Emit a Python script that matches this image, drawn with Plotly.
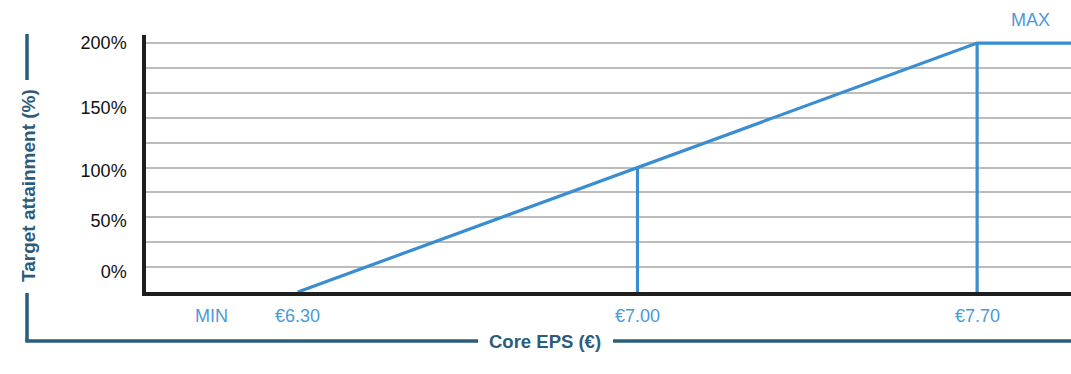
import plotly.graph_objects as go

# ---- data ----
eps_points = [6.30, 7.00, 7.70, 7.90]          # Core EPS (€) along the payout curve
attainment = [0, 100, 200, 200]                  # target attainment (%)
marker_eps = [7.00, 7.70]                        # vertical reference lines
marker_att = [100, 200]
x_label_vals = [6.122, 6.30, 7.00, 7.70]
x_label_text = ["MIN", "€6.30", "€7.00", "€7.70"]
max_label_val = 7.811
max_label_text = "MAX"
y_tick_vals = [16, 57, 97.5, 148, 200]
y_tick_text = ["0%", "50%", "100%", "150%", "200%"]

W, H = 1071, 374
L, R, T, B = 146, 0, 35, 82
PW, PH = W - L - R, H - T - B

def px(x):
    return (x - L) / PW

def py(y):
    return (H - B - y) / PH

LINE_BLUE = "#3a8dd0"
LABEL_BLUE = "#4b9ad8"
TEAL = "#2c5c7d"
FONT = "Liberation Sans, Arial, sans-serif"

fig = go.Figure()
fig.add_trace(go.Scatter(x=eps_points, y=attainment, mode="lines",
                         line=dict(color=LINE_BLUE, width=3.2), hoverinfo="skip",
                         showlegend=False))
for xv, yv in zip(marker_eps, marker_att):
    fig.add_trace(go.Scatter(x=[xv, xv], y=[0, yv], mode="lines",
                             line=dict(color=LINE_BLUE, width=3.2), hoverinfo="skip",
                             showlegend=False))

annotations = []
for xv, txt in zip(x_label_vals, x_label_text):
    annotations.append(dict(x=xv, xref="x", y=py(316), yref="paper", text=txt,
                            showarrow=False, xanchor="center", yanchor="middle",
                            font=dict(family=FONT, size=18, color=LABEL_BLUE)))
annotations.append(dict(x=max_label_val, xref="x", y=py(20), yref="paper", text=max_label_text,
                        showarrow=False, xanchor="center", yanchor="middle",
                        font=dict(family=FONT, size=18, color=LABEL_BLUE)))
annotations.append(dict(x=px(545), xref="paper", y=py(341), yref="paper",
                        text="<b>Core EPS (€)</b>", showarrow=False,
                        xanchor="center", yanchor="middle",
                        font=dict(family=FONT, size=18.5, color=TEAL)))
annotations.append(dict(x=px(28), xref="paper", y=py(186), yref="paper",
                        text="<b>Target attainment (%)</b>", showarrow=False, textangle=-90,
                        xanchor="center", yanchor="middle",
                        font=dict(family=FONT, size=19, color=TEAL)))

shape_line = dict(color=TEAL, width=3.5)
shapes = [
    dict(type="line", xref="paper", yref="paper", x0=px(27), x1=px(27), y0=py(34), y1=py(80), line=shape_line),
    dict(type="line", xref="paper", yref="paper", x0=px(27), x1=px(27), y0=py(293), y1=py(341), line=shape_line),
    dict(type="line", xref="paper", yref="paper", x0=px(25.3), x1=px(478), y0=py(341), y1=py(341), line=shape_line),
    dict(type="line", xref="paper", yref="paper", x0=px(613), x1=px(1071), y0=py(341), y1=py(341), line=shape_line),
]

fig.update_layout(
    width=W, height=H,
    margin=dict(l=L, r=R, t=T, b=B, pad=0),
    paper_bgcolor="white", plot_bgcolor="white",
    showlegend=False,
    annotations=annotations, shapes=shapes,
    xaxis=dict(range=[5.987, 7.8935], showgrid=False, zeroline=False,
               showticklabels=False, ticks="",
               showline=True, linecolor="#1e1e1e", linewidth=3.5),
    yaxis=dict(range=[0, 206.5], tickvals=y_tick_vals, ticktext=y_tick_text,
               showgrid=False, zeroline=False, ticks="",
               ticklabelstandoff=12,
               tickfont=dict(family=FONT, size=18, color="#111111"),
               showline=True, linecolor="#1e1e1e", linewidth=3.5,
               minor=dict(dtick=20, tick0=0, showgrid=True, gridcolor="#bcbcbc", gridwidth=1.5)),
)

fig.write_html("out.html")
